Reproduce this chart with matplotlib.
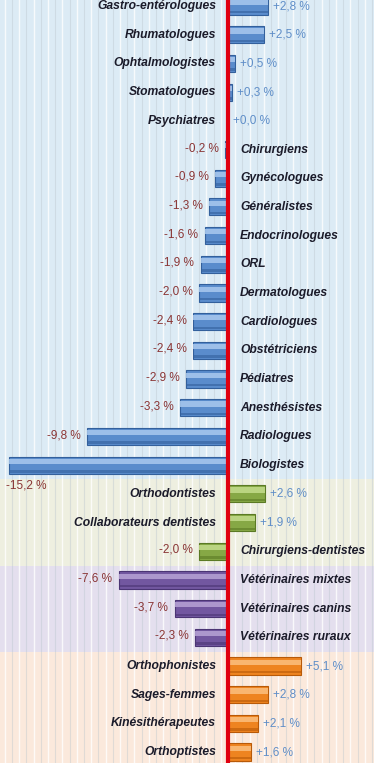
import matplotlib
matplotlib.use("Agg")
import matplotlib.pyplot as plt
import numpy as np

categories = [
    "Gastro-entérologues", "Rhumatologues", "Ophtalmologistes", "Stomatologues",
    "Psychiatres", "Chirurgiens", "Gynécologues", "Généralistes", "Endocrinologues",
    "ORL", "Dermatologues", "Cardiologues", "Obstétriciens", "Pédiatres",
    "Anesthésistes", "Radiologues", "Biologistes",
    "Orthodontistes", "Collaborateurs dentistes", "Chirurgiens-dentistes",
    "Vétérinaires mixtes", "Vétérinaires canins", "Vétérinaires ruraux",
    "Orthophonistes", "Sages-femmes", "Kinésithérapeutes", "Orthoptistes",
]
values = [2.8, 2.5, 0.5, 0.3, 0.0, -0.2, -0.9, -1.3, -1.6, -1.9, -2.0, -2.4, -2.4,
          -2.9, -3.3, -9.8, -15.2,
          2.6, 1.9, -2.0,
          -7.6, -3.7, -2.3,
          5.1, 2.8, 2.1, 1.6]
groups = ["med"] * 17 + ["dent"] * 3 + ["vet"] * 3 + ["para"] * 4

group_style = {
    "med":  dict(bg="#dcebf5", bar="#5a8ccc", light="#a9c9ef", dark="#33609c"),
    "dent": dict(bg="#eeefe0", bar="#86a845", light="#c4dd8c", dark="#5b7a25"),
    "vet":  dict(bg="#e4dfee", bar="#7257a0", light="#b7a3d6", dark="#4b3574"),
    "para": dict(bg="#fbe9dc", bar="#ee8420", light="#fbc07f", dark="#b85a08"),
}

plt.rcParams['font.family'] = ['Liberation Sans Narrow', 'Liberation Sans', 'DejaVu Sans']

fig = plt.figure(figsize=(3.74, 7.63), dpi=100)
ax = fig.add_axes([0, 0, 1, 1])
n = len(categories)
ax.set_xlim(-15.83, 10.14)
ax.set_ylim(n - 1 + 0.38, -0.21)
ax.axis("off")

# background bands
bounds = {}
for i, g in enumerate(groups):
    lo, hi = bounds.get(g, (i, i))
    bounds[g] = (min(lo, i), max(hi, i))
for g, (lo, hi) in bounds.items():
    top = -0.21 if lo == 0 else lo - 0.5
    bot = n - 1 + 0.38 if hi == n - 1 else hi + 0.5
    ax.axhspan(top, bot, color=group_style[g]["bg"], zorder=0, lw=0)

# vertical stripes texture
for xv in np.arange(-15.5, 10.2, 1.0):
    ax.axvline(xv, color="white", lw=1.0, alpha=0.8, zorder=0.5)
for xv in np.arange(-15.0, 10.2, 1.0):
    ax.axvline(xv, color="#b9c4cc", lw=0.8, alpha=0.4, zorder=0.5)

h = 0.6
for i, (cat, v, g) in enumerate(zip(categories, values, groups)):
    st = group_style[g]
    ax.barh(i, v, height=h, color=st["bar"], edgecolor=st["dark"], lw=0.8, zorder=2)
    # bevel highlight
    ax.barh(i - h * 0.22, v, height=h * 0.3, color=st["light"], lw=0, alpha=0.85, zorder=3)
    ax.barh(i + h * 0.36, v, height=h * 0.14, color=st["dark"], lw=0, alpha=0.6, zorder=3)

    sval = ("%+.1f %%" % v).replace(".", ",")
    if v >= 0:
        ax.text(-0.83, i, cat, ha="right", va="center", fontsize=8.7,
                fontweight="bold", fontstyle="italic", color="#1b1b2a", zorder=5)
        ax.text(v + 0.35, i, sval, ha="left", va="center", fontsize=8.5,
                color="#5f8ec8", zorder=5)
    else:
        ax.text(0.83, i, cat, ha="left", va="center", fontsize=8.7,
                fontweight="bold", fontstyle="italic", color="#1b1b2a", zorder=5)
        if v - 3.5 < ax.get_xlim()[0]:
            ax.text(ax.get_xlim()[0] + 0.4, i + 0.72, sval, ha="left", va="center",
                    fontsize=8.5, color="#8a3535", zorder=5)
        else:
            ax.text(v - 0.45, i - 0.05, sval, ha="right", va="center", fontsize=8.5,
                    color="#8a3535", zorder=5)

ax.axvline(0, color="#e00010", lw=3, zorder=4)

fig.savefig("out.png", dpi=100)
